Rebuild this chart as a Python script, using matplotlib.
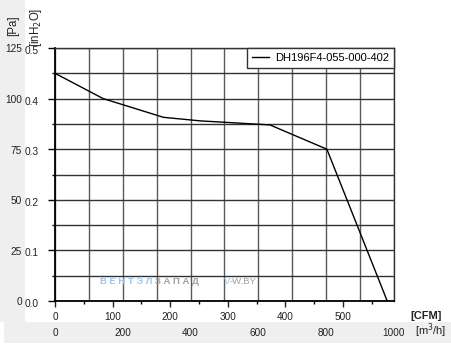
import numpy as np
import matplotlib
matplotlib.use("Agg")
import matplotlib.pyplot as plt
from matplotlib.patches import Rectangle
import matplotlib.transforms as mtransforms

plt.rcParams['font.family'] = ['Liberation Sans', 'DejaVu Sans']

# ---- data ----
flow_m3h = [0, 142, 320, 428, 634, 802, 980]
pressure_inh2o = [0.450, 0.400, 0.363, 0.356, 0.348, 0.300, 0.0]
series_name = "DH196F4-055-000-402"

m3h_ticks = [0, 200, 400, 600, 800, 1000]
cfm_ticks = [0, 100, 200, 300, 400, 500]
inh2o_ticks = [0.0, 0.1, 0.2, 0.3, 0.4, 0.5]
pa_labels = ["0", "25", "50", "75", "100", "125"]
inh2o_labels = ["0.0", "0.1", "0.2", "0.3", "0.4", "0.5"]

W, H = 452, 345
fig = plt.figure(figsize=(W / 100, H / 100), dpi=100)
fig.patch.set_facecolor('white')

band = '#efefef'
fig.add_artist(Rectangle((0, (H - 322) / H), 25 / W, 322 / H, transform=fig.transFigure,
                         facecolor=band, edgecolor='none', zorder=0))
fig.add_artist(Rectangle((4 / W, (H - 343) / H), (W - 4) / W, 21 / H, transform=fig.transFigure,
                         facecolor=band, edgecolor='none', zorder=0))

ax = fig.add_axes([55 / W, (H - 301) / H, (394 - 55) / W, (301 - 48) / H])
ax.set_xlim(0, 1000)
ax.set_ylim(0, 0.5)

ax.plot(flow_m3h, pressure_inh2o, color='black', lw=1.0, label=series_name, zorder=3)

# grid
ax.set_xticks(m3h_ticks)
ax.set_xticks(np.arange(0, 1001, 100), minor=True)
ax.set_xticklabels([str(v) for v in m3h_ticks], fontsize=7.2, color='#222')
ax.tick_params(axis='x', which='both', length=0, pad=19.5)
ax.set_yticks(inh2o_ticks)
ax.set_yticks(np.arange(0, 0.501, 0.05), minor=True)
ax.set_yticklabels([])
ax.tick_params(axis='y', which='major', length=5, width=1.0, direction='out')
ax.tick_params(axis='y', which='minor', length=2, width=1.0, direction='out')
ax.grid(True, axis='x', which='both', color='#5a5a5a', lw=1.0)
ax.grid(True, axis='y', which='both', color='#333333', lw=1.0)
for s in ['top', 'right']:
    ax.spines[s].set_color('#333333')
    ax.spines[s].set_linewidth(1.0)
for s in ['left', 'bottom']:
    ax.spines[s].set_color('black')
    ax.spines[s].set_linewidth(1.3)

# y labels (inH2O and Pa)
off = mtransforms.ScaledTranslation(0, -3 / 100, fig.dpi_scale_trans)
tr_in = mtransforms.blended_transform_factory(fig.transFigure, ax.transData) + off
for v, lab_in, lab_pa in zip(inh2o_ticks, inh2o_labels, pa_labels):
    ax.text(39 / W, v, lab_in, transform=tr_in, ha='right', va='center', fontsize=7.3, color='#222')
    ax.text(22 / W, v + 0.003, lab_pa, transform=tr_in, ha='right', va='center', fontsize=7.3, color='#222')

# CFM secondary axis
sec = ax.secondary_xaxis('bottom', functions=(lambda q: q / 1.699, lambda c: c * 1.699))
sec.set_xticks(cfm_ticks)
sec.set_xticks(np.arange(50, 600, 100), minor=True)
sec.set_xticklabels([str(v) for v in cfm_ticks], fontsize=7.2)
sec.tick_params(axis='x', which='major', length=4, width=1.0, pad=4, colors='#222')
sec.tick_params(axis='x', which='minor', length=2, width=1.0)
sec.spines['bottom'].set_visible(False)

# axis unit labels
fig.text(13 / W, 1 - 26 / H, "[Pa]", rotation=90, ha='center', va='center', fontsize=8.3, color='#222')
fig.text(36 / W, 1 - 27 / H, "[inH$_2$O]", rotation=90, ha='center', va='center', fontsize=8.3, color='#222')
fig.text(426 / W, 1 - 316 / H, "[CFM]", ha='center', va='center', fontsize=8, fontweight='bold', color='#222')
fig.text(431 / W, 1 - 331 / H, "[m$^3$/h]", ha='center', va='center', fontsize=8, color='#222')

# watermark
fig.text(100 / W, 1 - 282 / H, "В Е Н Т Э Л", ha='left', va='center', fontsize=6.8,
         fontweight='bold', color='#9cc7ea', zorder=1)
fig.text(155 / W, 1 - 282 / H, "З А П А Д", ha='left', va='center', fontsize=6.8,
         fontweight='bold', color='#a0a0a0', zorder=1)
fig.text(224 / W, 1 - 282 / H, "V", ha='left', va='center', fontsize=6.8, color='#9cc7ea', zorder=1)
fig.text(230 / W, 1 - 282 / H, "-W.BY", ha='left', va='center', fontsize=6.8, color='#a0a0a0', zorder=1)

leg = ax.legend(loc='upper right', frameon=True, fancybox=False, edgecolor='#333333',
                borderaxespad=0, handlelength=1.6, fontsize=8, framealpha=1,
                borderpad=0.45, handletextpad=0.5)
leg.get_frame().set_linewidth(1.0)
leg.set_zorder(5)

fig.savefig("out.png", dpi=100, facecolor=fig.get_facecolor())
